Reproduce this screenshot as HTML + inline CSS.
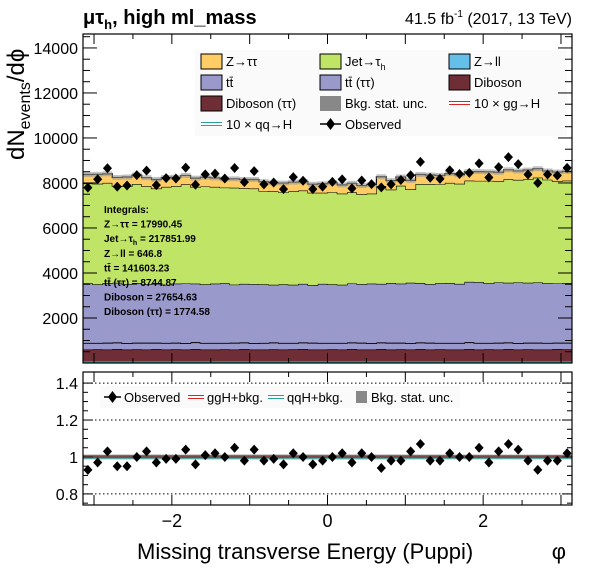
<!DOCTYPE html>
<html><head><meta charset="utf-8">
<style>
html,body{margin:0;padding:0;background:#fff;}
svg{display:block;font-family:"Liberation Sans",sans-serif;}
</style></head>
<body>
<svg id="c" width="596" height="572" viewBox="0 0 596 572" xmlns="http://www.w3.org/2000/svg">
<text x="83" y="24" font-size="20" font-weight="bold">μτ<tspan font-size="13" dy="5">h</tspan><tspan dy="-5">, high ml_mass</tspan></text>
<text x="572" y="24" font-size="16" text-anchor="end">41.5 fb<tspan font-size="10" dy="-7">-1</tspan><tspan dy="7"> (2017, 13 TeV)</tspan></text>
<text transform="translate(24,160) rotate(-90)" font-size="24" text-anchor="start">dN<tspan font-size="16" dy="6">events</tspan><tspan dy="-6">/dϕ</tspan></text>
<text x="137" y="559" font-size="22">Missing transverse Energy (Puppi)</text>
<text x="566" y="559" font-size="22" text-anchor="end">φ</text>
<g id="main"></g>
<g id="ratio"></g>
</svg>
<script>
const ratioVals=[0.93,0.97,1.03,0.95,0.95,1.0,1.03,0.97,0.99,0.99,1.04,0.96,1.01,1.02,1.0,1.05,0.98,1.04,0.98,0.99,0.96,1.02,1.0,0.96,0.98,1.0,1.02,0.97,1.02,1.0,0.94,0.98,0.98,1.03,1.07,0.98,0.98,1.02,1.0,1.0,1.05,0.97,1.03,1.07,1.04,0.98,0.93,0.98,0.98,1.02];
const observed=[7793,8167,8652,7838,7885,8350,8549,7906,8217,8197,8684,7920,8383,8415,8200,8663,8036,8528,7938,8019,7728,8262,8100,7728,7840,8050,8160,7760,8109,7950,7802,7938,8134,8343,8935,8232,8183,8568,8400,8450,8873,8245,8704,9149,8840,8379,7998,8379,8330,8670];
const diboson=[600,610,600,620,600,610,600,620,600,610,600,620,600,600,610,600,620,600,600,610,600,610,620,600,600,610,600,620,600,600,620,600,610,600,620,600,610,600,600,620,600,610,600,620,600,610,600,600,620,610];
const zll=[15,15,15,15,15,15,15,15,15,15,15,15,15,15,15,15,15,15,15,15,15,15,15,15,15,15,15,15,15,15,15,15,15,15,15,15,15,15,15,15,15,15,15,15,15,15,15,15,15,15];
const ttTauTau=[280,270,290,280,270,280,290,270,280,280,270,290,280,280,270,290,280,270,280,290,280,270,280,290,280,270,280,280,290,270,280,290,280,270,280,290,270,280,280,290,280,270,290,280,270,280,290,280,270,280];
const ttbar=[2650,2600,2650,2650,2620,2650,2600,2650,2580,2620,2650,2600,2600,2630,2650,2580,2600,2620,2600,2560,2600,2580,2600,2560,2620,2600,2580,2620,2600,2640,2600,2650,2620,2680,2640,2600,2650,2660,2620,2680,2700,2650,2680,2650,2700,2660,2680,2650,2630,2650];
const jetFakes=[4430,4470,4450,4300,4350,4400,4350,4200,4350,4330,4400,4300,4350,4300,4250,4300,4250,4250,4150,4150,4100,4150,4150,4100,4050,4100,4050,4050,4000,4000,4350,4150,4350,4150,4400,4450,4400,4450,4450,4500,4500,4550,4500,4600,4550,4600,4650,4600,4550,4550];
const zTauTau=[400,420,400,380,410,400,380,400,420,400,400,390,410,400,380,400,390,400,410,380,400,410,390,380,400,410,390,400,380,400,410,400,390,400,420,400,390,410,400,400,410,400,390,420,400,410,400,390,400,410];
const statUnc=[110,110,110,110,110,110,110,110,110,110,110,110,110,110,110,110,110,110,110,110,110,110,110,110,110,110,110,110,110,110,110,110,110,110,110,110,110,110,110,110,110,110,110,110,110,110,110,110,110,110];
const yTicks=[2000,4000,6000,8000,10000,12000,14000];
const xTicks=[-2,0,2];
const rTicks=[0.8,1,1.2,1.4];
const integrals=["Integrals:","Z→ττ = 17990.45","Jet→τ_h = 217851.99","Z→ll = 646.8","tt̄ = 141603.23","tt̄ (ττ) = 8744.87","Diboson = 27654.63","Diboson (ττ) = 1774.58"];

const NS="http://www.w3.org/2000/svg";
const X0=83,X1=572,MT=34,MB=363,RT=372,RB=505;
const XMIN=-Math.PI,XMAX=Math.PI,YMAX=14620,RMIN=0.74,RMAX=1.46;
const N=observed.length;
const xs=v=>X0+(v-XMIN)/(XMAX-XMIN)*(X1-X0);
const ys=v=>MB-v/YMAX*(MB-MT);
const rs=v=>RB-(v-RMIN)/(RMAX-RMIN)*(RB-RT);
const binX=i=>xs(XMIN+i*(XMAX-XMIN)/N);
function el(t,a,p){const e=document.createElementNS(NS,t);for(const k in a)e.setAttribute(k,a[k]);(p||document.getElementById('c')).appendChild(e);return e;}
const main=document.getElementById('main'),ratio=document.getElementById('ratio');

const layers=[[diboson,'#6f2d35','diboson'],[ttTauTau,'#9999cc','ttbar-tautau'],[zll,'#64c0e8','zll'],[ttbar,'#9999cc','ttbar'],[jetFakes,'#c0e566','jet-fakes'],[zTauTau,'#ffcc66','ztautau']];
const cum=new Array(N).fill(0);
layers.forEach(([arr,col,name])=>{
  const lo=cum.slice();
  for(let i=0;i<N;i++)cum[i]+=arr[i];
  let d='';
  for(let i=0;i<N;i++){d+=(i?'L':'M')+binX(i)+' '+ys(cum[i])+'L'+binX(i+1)+' '+ys(cum[i]);}
  for(let i=N-1;i>=0;i--){d+='L'+binX(i+1)+' '+ys(lo[i])+'L'+binX(i)+' '+ys(lo[i]);}
  const p=el('path',{d:d+'Z',fill:col,stroke:'none'},main);
  
  
  let ld='';
  for(let i=0;i<N;i++){ld+=(i?'L':'M')+binX(i)+' '+ys(cum[i])+'L'+binX(i+1)+' '+ys(cum[i]);}
  el('path',{d:ld,fill:'none',stroke:'#000','stroke-width':1.2},main);
});
const total=cum.slice();
for(let i=0;i<N;i++){
  const r=el('rect',{x:binX(i),y:ys(total[i]+statUnc[i]),width:binX(i+1)-binX(i),height:ys(total[i]-statUnc[i])-ys(total[i]+statUnc[i]),fill:'#999','fill-opacity':0.6},main);
  
  
}
el('line',{x1:X0,x2:X1,y1:MB-1,y2:MB-1,stroke:'#2aa198','stroke-width':1.5},main);
for(let i=0;i<N;i++){
  const cx=(binX(i)+binX(i+1))/2,cy=ys(observed[i]);const e=Math.sqrt(observed[i])*1.3;
  el('line',{x1:cx,x2:cx,y1:ys(observed[i]+e),y2:ys(observed[i]-e),stroke:'#000','stroke-width':1.5},main);
  el('line',{x1:cx-4,x2:cx+4,y1:cy,y2:cy,stroke:'#000','stroke-width':1.5},main);
  const m=el('path',{d:`M${cx} ${cy-5}L${cx+4.5} ${cy}L${cx} ${cy+5}L${cx-4.5} ${cy}Z`,fill:'#000'},main);
  
  
}
integrals.forEach((t,k)=>{
  const tx=el('text',{x:104,y:213+k*14.6,'font-size':10,'font-weight':'bold'},main);
  if(t.includes('_h')){tx.textContent='Jet→τ';const s=el('tspan',{'font-size':7,dy:3},tx);s.textContent='h';const s2=el('tspan',{dy:-3},tx);s2.textContent=t.split('_h')[1];}
  else tx.textContent=t;
  
  
});
el('rect',{x:195,y:50,width:372,height:86,fill:'#fafafa'},main);
const leg=[[201,61,'box','#ffcc66','Z→ττ'],[320,61,'box','#c0e566','Jet→τh'],[449,61,'box','#64c0e8','Z→ll'],
[201,82,'box','#9999cc','tt̄'],[320,82,'box','#9999cc','tt̄ (ττ)'],[449,82,'box','#6f2d35','Diboson'],
[201,103,'box','#6f2d35','Diboson (ττ)'],[320,103,'grey','#888','Bkg. stat. unc.'],[449,103,'line','#d62728','10 × gg→H'],
[201,124,'line','#2aa198','10 × qq→H'],[320,124,'marker','#000','Observed']];
leg.forEach(([x,y,k,c,t])=>{
  const g=el('g',{},main);
  
  
  if(k==='box')el('rect',{x:x,y:y-7,width:21,height:15,fill:c,stroke:'#000','stroke-width':1},g);
  if(k==='grey')el('rect',{x:x,y:y-7,width:21,height:15,fill:c},g);
  if(k==='line'){el('line',{x1:x,x2:x+21,y1:y-1.5,y2:y-1.5,stroke:c,'stroke-width':1},g);el('line',{x1:x,x2:x+21,y1:y+1.5,y2:y+1.5,stroke:c,'stroke-width':1},g);}
  if(k==='marker'){el('line',{x1:x,x2:x+21,y1:y,y2:y,stroke:'#000','stroke-width':1.5},g);el('path',{d:`M${x+10.5} ${y-6}L${x+15} ${y}L${x+10.5} ${y+6}L${x+6} ${y}Z`},g);}
  const tx=el('text',{x:x+25,y:y+5,'font-size':13},g);
  if(t==='Jet→τh'){tx.textContent='Jet→τ';const s=el('tspan',{'font-size':9,dy:4},tx);s.textContent='h';}else tx.textContent=t;
});
el('rect',{x:X0,y:MT,width:X1-X0,height:MB-MT,fill:'none',stroke:'#000','stroke-width':1.2},main);
for(let v=500;v<YMAX;v+=500){const y=ys(v);const big=v%2000===0;const L=big?14:7;
  el('line',{x1:X0,x2:X0+L,y1:y,y2:y,stroke:'#000'},main);el('line',{x1:X1,x2:X1-L,y1:y,y2:y,stroke:'#000'},main);}
yTicks.forEach(v=>{const t=el('text',{x:78,y:ys(v)+6,'font-size':16,'text-anchor':'end'},main);t.textContent=v;
  });
for(let v=-3;v<=3.01;v+=0.5){const x=xs(v);const big=Math.abs(v-Math.round(v))<1e-6;const L=big?10:5;
  el('line',{x1:x,x2:x,y1:MB,y2:MB-L,stroke:'#000'},main);el('line',{x1:x,x2:x,y1:MT,y2:MT+L,stroke:'#000'},main);
  el('line',{x1:x,x2:x,y1:RB,y2:RB-L,stroke:'#000'},ratio);el('line',{x1:x,x2:x,y1:RT,y2:RT+L,stroke:'#000'},ratio);}
[1.4,1.2,0.8].forEach(v=>el('line',{x1:X0,x2:X1,y1:rs(v),y2:rs(v),stroke:'#000','stroke-dasharray':'1.5,2.5'},ratio));
for(let i=0;i<N;i++){el('rect',{x:binX(i),y:rs(1+statUnc[i]/total[i]),width:binX(i+1)-binX(i),height:rs(1-statUnc[i]/total[i])-rs(1+statUnc[i]/total[i]),fill:'#aaa'},ratio);}
el('line',{x1:X0,x2:X1,y1:rs(1)-1.2,y2:rs(1)-1.2,stroke:'#d62728','stroke-width':1},ratio);
el('line',{x1:X0,x2:X1,y1:rs(1)+1.2,y2:rs(1)+1.2,stroke:'#2aa198','stroke-width':1},ratio);
el('line',{x1:X0,x2:X1,y1:rs(1),y2:rs(1),stroke:'#000','stroke-width':0.8},ratio);
for(let i=0;i<N;i++){
  const cx=(binX(i)+binX(i+1))/2,cy=rs(ratioVals[i]);const e=Math.sqrt(observed[i])*1.3/total[i];
  el('line',{x1:cx,x2:cx,y1:rs(ratioVals[i]+e),y2:rs(ratioVals[i]-e),stroke:'#000','stroke-width':1.5},ratio);
  el('line',{x1:cx-4,x2:cx+4,y1:cy,y2:cy,stroke:'#000','stroke-width':1.5},ratio);
  const m=el('path',{d:`M${cx} ${cy-5}L${cx+4.5} ${cy}L${cx} ${cy+5}L${cx-4.5} ${cy}Z`,fill:'#000'},ratio);
  
  
}
el('rect',{x:X0,y:RT,width:X1-X0,height:RB-RT,fill:'none',stroke:'#000','stroke-width':1.2},ratio);
for(let v=0.75;v<=1.45;v+=0.05){const y=rs(v);const big=Math.abs(v*5-Math.round(v*5))<1e-6;const L=big?10:5;
  el('line',{x1:X0,x2:X0+L,y1:y,y2:y,stroke:'#000'},ratio);el('line',{x1:X1,x2:X1-L,y1:y,y2:y,stroke:'#000'},ratio);}
rTicks.forEach(v=>{const t=el('text',{x:78,y:rs(v)+6,'font-size':16,'text-anchor':'end'},ratio);t.textContent=(v===1?'1':v.toFixed(1));
  });
xTicks.forEach(v=>{const t=el('text',{x:xs(v),y:527,'font-size':18,'text-anchor':'middle'},ratio);t.textContent=(v<0?'−'+(-v):v);
  });
const rl=el('g',{},ratio);


el('rect',{x:100,y:386,width:360,height:22,fill:'#fafafa'},rl);
el('line',{x1:104,x2:121,y1:397,y2:397,stroke:'#000','stroke-width':1.5},rl);
el('path',{d:'M112.5 391L117 397L112.5 403L108 397Z'},rl);
let t=el('text',{x:124,y:402,'font-size':13},rl);t.textContent='Observed';
el('line',{x1:188,x2:204,y1:395.5,y2:395.5,stroke:'#d62728'},rl);el('line',{x1:188,x2:204,y1:398.5,y2:398.5,stroke:'#d62728'},rl);
t=el('text',{x:207,y:402,'font-size':13},rl);t.textContent='ggH+bkg.';
el('line',{x1:268,x2:284,y1:395.5,y2:395.5,stroke:'#2aa198'},rl);el('line',{x1:268,x2:284,y1:398.5,y2:398.5,stroke:'#2aa198'},rl);
t=el('text',{x:287,y:402,'font-size':13},rl);t.textContent='qqH+bkg.';
el('rect',{x:356,y:391,width:11,height:12,fill:'#888'},rl);
t=el('text',{x:371,y:402,'font-size':13},rl);t.textContent='Bkg. stat. unc.';
</script>
</body></html>
